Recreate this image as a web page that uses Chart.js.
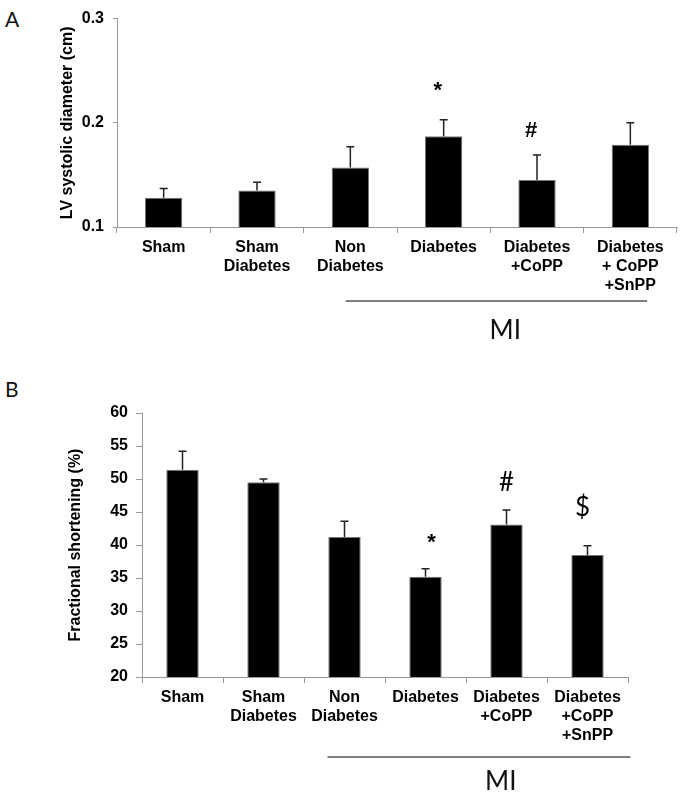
<!DOCTYPE html>
<html>
<head>
<meta charset="utf-8">
<script src="https://cdn.jsdelivr.net/npm/chart.js@4/dist/chart.umd.min.js"></script>
<style>
  body { margin: 0; background: #fff; }
  #page { position: relative; width: 680px; height: 796px; background: #fff; overflow: hidden; }
  .box { position: absolute; left: 0; width: 680px; }
  .panel { position: absolute; left: 5px; font-family: Lato, 'Open Sans', sans-serif; font-size: 21px; color: #111; }
</style>
</head>
<body>
<div id="page">
  <div class="panel" style="top:6px">A</div>
  <div class="box" style="top:0;height:340px"><canvas id="chartA" width="680" height="340"></canvas></div>
  <div class="panel" style="top:376px">B</div>
  <div class="box" style="top:380px;height:416px"><canvas id="chartB" width="680" height="416"></canvas></div>
</div>
<script>
const groupsA = ['Sham', ['Sham', 'Diabetes'], ['Non', 'Diabetes'], 'Diabetes', ['Diabetes', '+CoPP'], ['Diabetes', '+ CoPP', '+SnPP']]
const groupsB = ['Sham', ['Sham', 'Diabetes'], ['Non', 'Diabetes'], 'Diabetes', ['Diabetes', '+CoPP'], ['Diabetes', '+CoPP', '+SnPP']]

// LV systolic diameter (cm), mean and SEM
const meanA = [0.128, 0.135, 0.157, 0.187, 0.145, 0.179]
const semA = [0.009, 0.008, 0.020, 0.016, 0.024, 0.021]
const ticksA = [0.1, 0.2, 0.3]
const marksA = ['', '', '', '*', '#', '']
const markAtA = [null, null, null, 0.231, 0.192, null]

// Fractional shortening (%), mean and SEM
const meanB = [51.4, 49.5, 41.2, 35.2, 43.1, 38.5]
const semB = [2.8, 0.5, 2.4, 1.2, 2.2, 1.4]
const ticksB = [20, 25, 30, 35, 40, 45, 50, 55, 60]
const marksB = ['', '', '', '*', '#', '$']
const markAtB = [null, null, null, 40.3, 49.4, 45.6]

const groupLabel = 'MI'

Chart.defaults.font.family = "'Liberation Sans', Arial, sans-serif"
Chart.defaults.color = '#000'

const decorPlugin = (sem, marks, markAt, markFonts, bracket) => ({
  id: 'decor',
  afterDatasetsDraw(chart) {
    const {ctx, scales: {x, y}, chartArea} = chart
    const means = chart.data.datasets[0].data
    ctx.save()
    ctx.strokeStyle = '#222'
    ctx.lineWidth = 1.5
    sem.forEach((s, i) => {
      const px = x.getPixelForValue(i)
      const base = y.getPixelForValue(means[i])
      const top = y.getPixelForValue(means[i] + s)
      ctx.beginPath()
      ctx.moveTo(px, base)
      ctx.lineTo(px, top)
      ctx.moveTo(px - 4, top)
      ctx.lineTo(px + 4, top)
      ctx.stroke()
    })

    ctx.fillStyle = '#000'
    ctx.textAlign = 'center'
    ctx.textBaseline = 'middle'
    marks.forEach((m, i) => {
      if (!m) return
      ctx.font = markFonts[m]
      ctx.fillText(m, x.getPixelForValue(i) + bracket.markDx[i], y.getPixelForValue(markAt[i]))
    })

    const x1 = x.getPixelForValue(bracket.from)
    const x2 = x.getPixelForValue(bracket.to)
    const ly = chartArea.bottom + bracket.lineDy
    ctx.strokeStyle = '#000'
    ctx.lineWidth = 1.2
    ctx.beginPath()
    ctx.moveTo(x1, ly)
    ctx.lineTo(x2, ly)
    ctx.stroke()
    ctx.font = "26px Lato, 'Open Sans', sans-serif"
    ctx.fillStyle = '#111'
    ctx.fillText(groupLabel, x.getPixelForValue(bracket.textAt), chartArea.bottom + bracket.textDy)
    ctx.restore()
  }
})

const barConfig = (labels, means, yTitle, yTicks, opt, plugin) => ({
  type: 'bar',
  data: {
    labels: labels,
    datasets: [{
      data: means,
      backgroundColor: '#000',
      borderColor: '#777',
      borderWidth: 1,
      barPercentage: 0.4,
      categoryPercentage: 1,
    }]
  },
  options: {
    responsive: false,
    animation: false,
    events: [],
    layout: { padding: opt.padding },
    plugins: { legend: { display: false }, tooltip: { enabled: false } },
    scales: {
      x: {
        grid: { drawOnChartArea: false, tickLength: 6, color: '#999' },
        border: { color: '#999', width: 1 },
        ticks: {
          font: { size: 16, weight: 'bold', lineHeight: '19px' },
          padding: opt.xPad,
          maxRotation: 0,
          autoSkip: false,
        },
        afterFit: scale => { scale.height = opt.xHeight },
      },
      y: {
        min: yTicks[0],
        max: yTicks[yTicks.length - 1],
        grid: { drawOnChartArea: false, tickLength: opt.yTick, color: '#999' },
        border: { color: '#999', width: 1 },
        ticks: {
          stepSize: yTicks[1] - yTicks[0],
          font: { size: 16, weight: 'bold' },
          padding: opt.yPad,
          callback: v => opt.fmt(v),
        },
        title: {
          display: true,
          text: yTitle,
          font: { size: 16, weight: 'bold' },
          padding: { top: opt.titleTop, bottom: 0 },
        },
        afterFit: scale => { scale.width = opt.yWidth },
      }
    }
  },
  plugins: [plugin]
})

const starFont = "bold 22px 'Liberation Sans', Arial, sans-serif"

const chartA = new Chart(document.getElementById('chartA').getContext('2d'), barConfig(
  groupsA, meanA, 'LV systolic diameter (cm)', ticksA,
  { padding: { left: 0, right: 3, top: 11, bottom: 0 }, xHeight: 113, yWidth: 117, xPad: 5, yTick: 4, yPad: 9, titleTop: 58, fmt: v => v.toFixed(1) },
  decorPlugin(semA, marksA, markAtA, { '*': starFont, '#': "bold 22px 'Liberation Sans', Arial, sans-serif" },
    { from: 1.95, to: 5.18, lineDy: 74, textAt: 3.66, textDy: 104, markDx: [0, 0, 0, -6, -6, 0] })
))

const chartB = new Chart(document.getElementById('chartB').getContext('2d'), barConfig(
  groupsB, meanB, 'Fractional shortening (%)', ticksB,
  { padding: { left: 0, right: 52, top: 33, bottom: 0 }, xHeight: 119, yWidth: 142, xPad: 5, yTick: 6, yPad: 8, titleTop: 66, fmt: v => v },
  decorPlugin(semB, marksB, markAtB, { '*': starFont, '#': "26px Lato, 'Open Sans', sans-serif", '$': "26px Lato, 'Open Sans', sans-serif" },
    { from: 1.79, to: 5.53, lineDy: 80, textAt: 3.93, textDy: 105, markDx: [0, 0, 0, 6, 0, -5] })
))
</script>
</body>
</html>
